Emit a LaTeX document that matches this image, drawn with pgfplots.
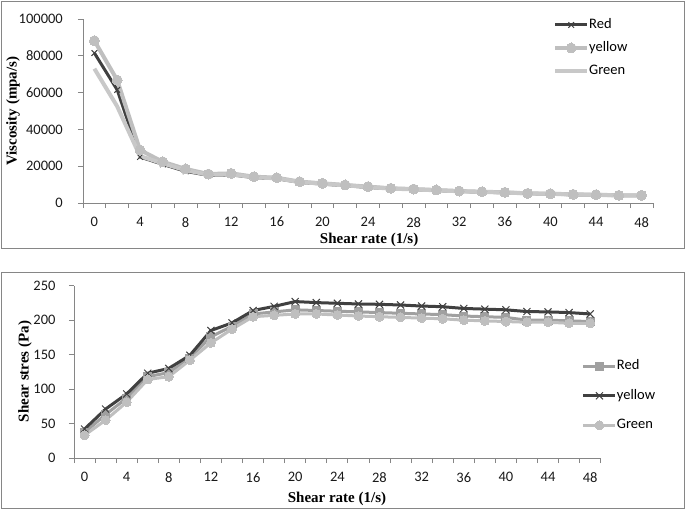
\documentclass[border=0pt]{standalone}
\usepackage{pgfplots}
\pgfplotsset{compat=1.18}
\usepackage{fontspec}
\setmainfont{Carlito}
\newfontfamily\tnr{Liberation Serif}
\definecolor{frame}{HTML}{868686}
\definecolor{dk}{HTML}{404040}
\definecolor{md}{HTML}{A0A0A0}
\definecolor{lt}{HTML}{BFBFBF}
\definecolor{lt2}{HTML}{C8C8C8}
\pgfplotsset{
  mystyle/.style={
    scale only axis,
    axis x line*=bottom, axis y line*=left,
    axis line style={frame, line width=0.9pt, -},
    tick style={frame, line width=0.9pt},
    tick align=outside,
    major tick length=5pt, minor tick length=5pt,
    xmin=-1, xmax=49,
    xtick={0,4,...,48},
    minor xtick={-1,1,...,49},
    major x tick style={draw=none},
    ticklabel style={font=\fontsize{14.5}{14.5}\selectfont, text=black!90, inner sep=0pt},
    /pgf/number format/assume math mode=true,
    /pgf/number format/fixed,
    /pgf/number format/precision=0,
    /pgf/number format/1000 sep={},
    scaled y ticks=false,
    label style={font=\tnr\bfseries\fontsize{15}{15}\selectfont, inner sep=0pt},
    legend image code/.code={\draw[mark repeat=2,mark phase=2,#1] plot coordinates {(0pt,0pt)(16pt,0pt)(32pt,0pt)};},
    legend cell align=left,
    clip=false,
  }
}
\begin{document}
\begin{tikzpicture}
\useasboundingbox (0,0) rectangle (685pt,-509pt);
\draw[frame, line width=1pt] (1pt,-1pt) rectangle (684pt,-248pt);
\draw[frame, line width=1pt] (1pt,-272pt) rectangle (684pt,-508pt);
% top
\begin{axis}[mystyle,
  at={(83pt,-203pt)}, anchor=south west,
  width=570pt, height=184pt,
  ymin=0, ymax=100000, ytick={0,20000,...,100000},
  yticklabel style={xshift=-15pt},
  xticklabel style={yshift=-9pt},
  xlabel={Shear rate (1/s)}, ylabel={Viscosity (mpa/s)},
  xlabel style={at={(axis description cs:0.502,-0.2)}, anchor=center},
  ylabel style={at={(axis description cs:-0.1228,0.5)}, anchor=center, rotate=0},
  legend style={at={(axis description cs:0.8246,1.004)}, anchor=north west, draw=none, fill=none,
    font=\fontsize{14.5}{14.5}\selectfont, row sep=10pt, inner sep=0pt,
    nodes={inner sep=0pt, text height=10pt, text depth=3pt}},
]
\addplot[dk, line width=3pt, mark=x, mark size=4pt, mark options={line width=1pt}] coordinates {
(0,81500)(2,61500)(4,25000)(6,21000)(8,17200)(10,15000)(12,15300)(14,13800)(16,13200)(18,11200)
(20,10300)(22,9400)(24,8500)(26,7700)(28,7300)(30,6800)(32,6300)(34,5900)(36,5600)(38,5100)
(40,4900)(42,4500)(44,4400)(46,4000)(48,4000)};
\addlegendentry{Red}
\addplot[lt, line width=4pt, mark=*, mark size=5pt, mark options={fill=lt, draw=lt, line width=0pt}] coordinates {
(0,88200)(2,66800)(4,28800)(6,22400)(8,18500)(10,15760)(12,16100)(14,14300)(16,13750)(18,11600)
(20,10700)(22,9800)(24,8900)(26,8000)(28,7600)(30,7070)(32,6500)(34,6150)(36,5800)(38,5250)
(40,5070)(42,4700)(44,4530)(46,4170)(48,4170)};
\addlegendentry{yellow}
\addplot[lt2, line width=4pt] coordinates {
(0,73000)(2,52500)(4,25500)(6,21500)(8,17800)(10,15300)(12,15600)(14,14000)(16,13400)(18,11400)
(20,10500)(22,9600)(24,8700)(26,7800)(28,7400)(30,6900)(32,6400)(34,6000)(36,5700)(38,5200)
(40,5000)(42,4600)(44,4450)(46,4100)(48,4100)};
\addlegendentry{Green}
\end{axis}
% bottom
\begin{axis}[mystyle,
  at={(74pt,-458pt)}, anchor=south west,
  width=526.7pt, height=172.3pt,
  ymin=0, ymax=250, ytick={0,50,...,250},
  yticklabel style={xshift=-13.3pt},
  xticklabel style={yshift=-9pt},
  xlabel={Shear rate (1/s)}, ylabel={Shear stres (Pa)},
  xlabel style={at={(axis description cs:0.4993,-0.238)}, anchor=center},
  ylabel style={at={(axis description cs:-0.093,0.502)}, anchor=center},
  legend style={at={(axis description cs:0.964,0.571)}, anchor=north west, draw=none, fill=none,
    font=\fontsize{14.5}{14.5}\selectfont, row sep=16.5pt, inner sep=0pt,
    nodes={inner sep=0pt, text height=10pt, text depth=3pt}},
]
\addplot[md, line width=3pt, mark=square*, mark size=4pt, mark options={fill=md, draw=md, line width=0pt}] coordinates {
(0,37)(2,63)(4,87)(6,118)(8,124)(10,145)(12,176)(14,191)(16,209)(18,212)
(20,215)(22,214)(24,213)(26,212)(28,211)(30,210)(32,209)(34,208)(36,206)(38,205)
(40,204)(42,200)(44,200)(46,199)(48,198)};
\addlegendentry{Red}
\addplot[dk, line width=3pt, mark=x, mark size=5pt, mark options={line width=1pt}] coordinates {
(0,42)(2,71)(4,93)(6,123)(8,130)(10,149)(12,185)(14,196)(16,214)(18,220)
(20,227)(22,225.5)(24,224.5)(26,223.5)(28,223)(30,222)(32,220.5)(34,219.5)(36,217)(38,216)
(40,215)(42,212.5)(44,212)(46,211)(48,209)};
\addlegendentry{yellow}
\addplot[lt, line width=3pt, mark=*, mark size=4.5pt, mark options={fill=lt, draw=lt, line width=0pt}] coordinates {
(0,33)(2,55)(4,81)(6,114)(8,118)(10,142)(12,167)(14,187)(16,205)(18,207)
(20,209)(22,209)(24,207.5)(26,206)(28,205)(30,204)(32,203)(34,202)(36,200)(38,199)
(40,198)(42,197)(44,197)(46,195.5)(48,195.5)};
\addlegendentry{Green}
\end{axis}
\end{tikzpicture}
\end{document}
